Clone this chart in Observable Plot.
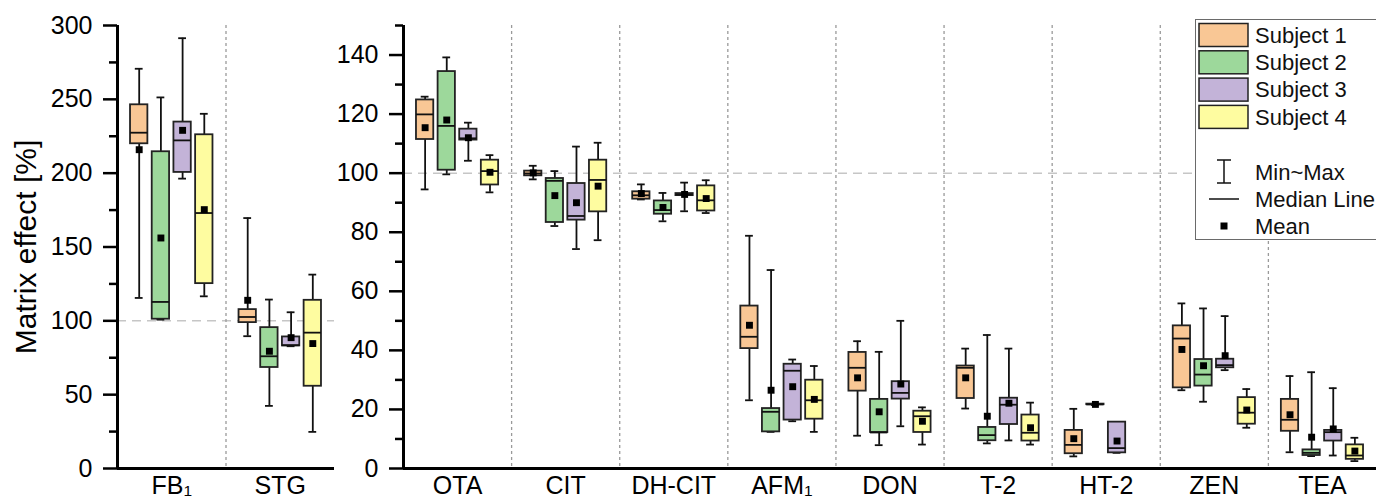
<!DOCTYPE html>
<html><head><meta charset="utf-8">
<script src="https://cdn.jsdelivr.net/npm/d3@7"></script>
<script src="https://cdn.jsdelivr.net/npm/@observablehq/plot@0.6"></script>
<style>
body{margin:0;background:#fff;}
#wrap{position:relative;width:1376px;height:502px;overflow:hidden;display:flex;font-family:"Liberation Sans",Arial,sans-serif;}
#legend{position:absolute;left:1195px;top:19px;width:200px;height:221px;border:1.5px solid #6a6a6a;background:#fff;box-sizing:border-box;}
</style></head><body><div id="wrap"></div>
<script>
const subjects = ["Subject 1","Subject 2","Subject 3","Subject 4"];
const colors = ["#F9C795","#9DD89B","#C3B3D8","#FEFCA0"];
const leftCategories = ["FB1","STG"];
const rightCategories = ["OTA","CIT","DH-CIT","AFM1","DON","T-2","HT-2","ZEN","TEA"];
const leftTicks = [0,50,100,150,200,250,300];
const leftMinor = [25,75,125,175,225,275];
const rightTicks = [0,20,40,60,80,100,120,140];
const rightMinor = [10,30,50,70,90,110,130,150];
const legendExtra = ["Min~Max","Median Line","Mean"];
const yLabel = "Matrix effect [%]";
const referenceLevel = 100;

// rows follow [...leftCategories, ...rightCategories]; columns = Subject 1..4
const maxV = [
 [270.7, 251.3, 291.4, 240.2],
 [169.6, 114.4, 105.8, 131.3],
 [125.9, 139.2, 117.1, 106.1],
 [102.5, 100.7, 109.0, 110.3],
 [96.2, 93.3, 96.8, 97.6],
 [78.8, 67.2, 36.9, 34.7],
 [43.1, 39.5, 50.0, 20.7],
 [40.6, 45.2, 40.6, 22.3],
 [20.2, 21.9, 15.7, null],
 [55.9, 54.2, 51.6, 26.9],
 [31.3, 32.6, 27.2, 10.4]
];
const q3V = [
 [246.3, 214.5, 234.6, 226.0],
 [107.6, 95.4, 89.1, 113.9],
 [124.8, 134.4, 114.9, 104.4],
 [100.7, 98.2, 96.5, 104.4],
 [93.7, 90.6, 93.1, 95.7],
 [55.0, 20.3, 35.3, 29.9],
 [39.3, 23.4, 29.4, 19.4],
 [34.7, 13.9, 23.8, 18.1],
 [12.9, 21.8, 15.7, null],
 [48.3, 36.9, 37.0, 24.0],
 [23.4, 6.3, 12.9, 8.0]
];
const medV = [
 [227.4, 112.8, 222.2, 173.0],
 [102.6, 76.0, 83.5, 92.0],
 [119.9, 116.0, 111.8, 100.7],
 [99.9, 97.4, 85.5, 97.7],
 [92.5, 87.5, 92.8, 90.8],
 [44.6, 19.2, 33.1, 23.1],
 [34.1, 12.2, 25.6, 17.7],
 [34.1, 11.3, 21.6, 12.1],
 [8.0, 21.7, 6.9, null],
 [44.0, 31.8, 35.0, 18.9],
 [16.5, 5.3, 12.3, 4.4]
];
const q1V = [
 [219.9, 101.1, 200.5, 125.2],
 [98.8, 68.4, 83.0, 55.7],
 [111.4, 101.0, 111.2, 96.0],
 [99.1, 83.3, 84.1, 86.9],
 [91.2, 86.1, 92.4, 87.2],
 [40.6, 12.4, 16.4, 16.7],
 [26.2, 12.2, 23.5, 12.2],
 [23.7, 9.4, 14.9, 9.3],
 [5.0, 21.6, 5.3, null],
 [27.3, 27.9, 34.1, 15.0],
 [12.6, 4.4, 9.3, 3.1]
];
const minV = [
 [115.5, 100.8, 196.3, 116.6],
 [89.6, 42.4, 82.8, 24.8],
 [94.5, 99.6, 104.2, 93.5],
 [97.9, 82.1, 74.3, 77.3],
 [91.1, 83.7, 87.1, 86.5],
 [23.1, 12.4, 16.0, 12.4],
 [11.1, 7.9, 14.3, 8.1],
 [20.3, 8.5, 9.5, 8.1],
 [4.1, 21.5, 5.3, null],
 [26.5, 22.6, 33.3, 13.8],
 [5.5, 4.2, 4.4, 2.5]
];
const meanV = [
 [215.9, 156.1, 229.0, 175.3],
 [113.9, 79.4, 88.6, 84.6],
 [115.4, 118.0, 112.0, 100.3],
 [100.1, 92.4, 90.0, 95.6],
 [93.1, 88.4, 92.8, 91.4],
 [48.5, 26.5, 27.7, 23.4],
 [30.7, 19.2, 28.6, 16.0],
 [30.7, 17.7, 22.1, 13.8],
 [10.1, 21.7, 9.3, null],
 [40.3, 34.8, 38.2, 19.8],
 [18.2, 10.6, 13.4, 5.9]
];

const FONT = '"Liberation Sans", Arial, sans-serif';
const BOX_HALF = 0.08, CAP_HALF = 0.036, SW = 1.8;

function buildRows(cats, offset) {
  const out = [];
  cats.forEach((c, i) => subjects.forEach((s, j) => {
    const k = offset + i;
    if (medV[k][j] == null) return;
    out.push({cat: c, subject: s, pos: i + (j + 1) / 5,
      min: minV[k][j], q1: q1V[k][j], med: medV[k][j], q3: q3V[k][j], max: maxV[k][j], mean: meanV[k][j]});
  }));
  return out;
}

function panel({cats, offset, ticks, minor, yMax, width, marginLeft, marginRight, withLabel}) {
  const data = buildRows(cats, offset);
  const marks = [
    Plot.ruleY([referenceLevel], {stroke: "#c6c6c6", strokeWidth: 1.5, strokeDasharray: "9,6"}),
    Plot.ruleX(d3.range(1, cats.length), {stroke: "#9a9a9a", strokeWidth: 1.3, strokeDasharray: "3,3"}),
    Plot.ruleX(data, {x: "pos", y1: "min", y2: "max", stroke: "#111", strokeWidth: SW}),
    Plot.ruleY(data, {y: "max", x1: d => d.pos - CAP_HALF, x2: d => d.pos + CAP_HALF, stroke: "#111", strokeWidth: SW}),
    Plot.ruleY(data, {y: "min", x1: d => d.pos - CAP_HALF, x2: d => d.pos + CAP_HALF, stroke: "#111", strokeWidth: SW}),
    Plot.rect(data, {x1: d => d.pos - BOX_HALF, x2: d => d.pos + BOX_HALF, y1: "q1", y2: "q3", fill: "subject", stroke: "#222", strokeWidth: SW}),
    Plot.ruleY(data, {y: "med", x1: d => d.pos - BOX_HALF, x2: d => d.pos + BOX_HALF, stroke: "#111", strokeWidth: SW}),
    Plot.dot(data, {x: "pos", y: "mean", symbol: "square", r: 3.9, fill: "#000", stroke: "none"}),
    Plot.axisY({ticks: ticks, tickSize: 14, tickPadding: 11, fontSize: 25, strokeWidth: 2.5, label: null}),
    Plot.axisY({ticks: minor, tickSize: 8, tickFormat: () => "", strokeWidth: 2.5, label: null}),
    Plot.axisX({ticks: cats.map((c, i) => i + 0.5), tickFormat: d => cats[Math.floor(d)], tickSize: 0, tickPadding: 8, fontSize: 25, label: null}),
    Plot.ruleY([0], {stroke: "#000", strokeWidth: 3}),
    Plot.ruleX([0], {stroke: "#000", strokeWidth: 3})
  ];
  if (withLabel) marks.push(Plot.axisY({ticks: [], label: yLabel, labelArrow: "none", labelAnchor: "center", labelOffset: 103, fontSize: 30}));
  const svg = Plot.plot({
    width, height: 502, marginTop: 25, marginBottom: 34, marginLeft, marginRight,
    x: {domain: [0, cats.length]},
    y: {domain: [0, yMax]},
    color: {domain: subjects, range: colors},
    style: {fontFamily: FONT, fontSize: "25px", color: "#000", background: "transparent", overflow: "visible"},
    marks
  });
  d3.select(svg).selectAll('g[aria-label="x-axis tick label"] text').each(function () {
    const t = this.textContent;
    if (t === "FB1" || t === "AFM1") {
      const sel = d3.select(this);
      sel.text(t.slice(0, -1));
      sel.append("tspan").attr("dy", "0.14em").attr("font-size", "0.62em").text("1");
    }
  });
  return svg;
}

const wrap = document.getElementById("wrap");
wrap.appendChild(panel({cats: leftCategories, offset: 0, ticks: leftTicks, minor: leftMinor, yMax: 300, width: 340, marginLeft: 117, marginRight: 6, withLabel: true}));
wrap.appendChild(panel({cats: rightCategories, offset: leftCategories.length, ticks: rightTicks, minor: rightMinor, yMax: 150, width: 1036, marginLeft: 63, marginRight: 0, withLabel: false}));

// legend
const leg = d3.select(wrap).append("div").attr("id", "legend");
const ls = leg.append("svg").attr("width", 200).attr("height", 221).style("font-family", FONT).style("font-size", "22px");
subjects.forEach((s, i) => {
  ls.append("rect").attr("x", 3).attr("y", 3.5 + 27.3 * i).attr("width", 49).attr("height", 23)
    .attr("fill", colors[i]).attr("stroke", "#222").attr("stroke-width", 1.5);
  ls.append("text").attr("x", 59).attr("y", 15 + 27.3 * i).attr("dy", "0.35em").attr("fill", "#111").text(s);
});
const ey = [152, 179, 206];
legendExtra.forEach((t, i) => {
  ls.append("text").attr("x", 59).attr("y", ey[i]).attr("dy", "0.35em").attr("fill", "#111").text(t);
});
const g = ls.append("g").attr("stroke", "#111").attr("stroke-width", 1.5);
g.append("line").attr("x1", 28).attr("x2", 28).attr("y1", 140).attr("y2", 163);
g.append("line").attr("x1", 21).attr("x2", 35).attr("y1", 140).attr("y2", 140);
g.append("line").attr("x1", 21).attr("x2", 35).attr("y1", 163).attr("y2", 163);
g.append("line").attr("x1", 13).attr("x2", 43).attr("y1", 179).attr("y2", 179);
ls.append("rect").attr("x", 24.5).attr("y", 202.5).attr("width", 7).attr("height", 7).attr("fill", "#000");
</script></body></html>
